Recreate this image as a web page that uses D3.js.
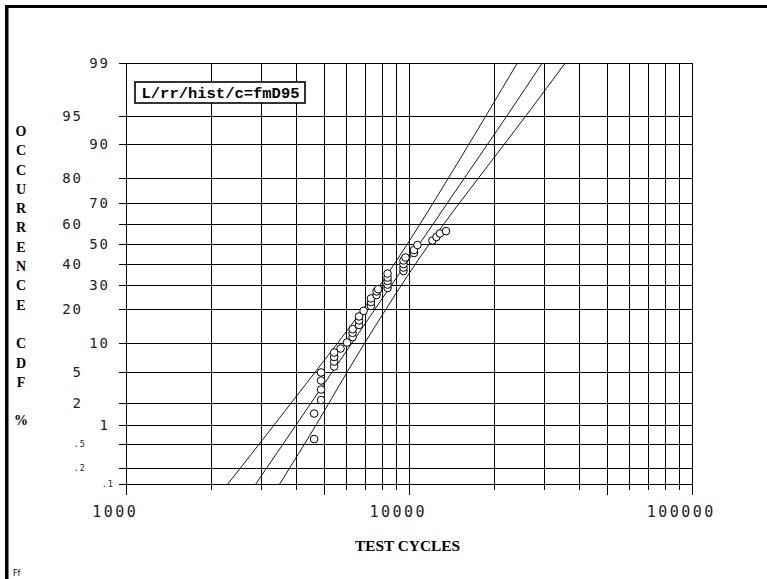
<!doctype html>
<html>
<head>
<meta charset="UTF-8">
<title>Lognormal probability plot</title>
<style>
  body { margin: 0; background: #fff; }
  svg { display: block; }
  .grid line { stroke: #000; stroke-width: 1; shape-rendering: crispEdges; }
  .tick-lbl { font-family: "DejaVu Sans Mono", monospace; fill: #222; }
  .ttl { font-family: "Liberation Serif", serif; font-weight: bold; fill: #000; }
</style>
</head>
<body>
<svg id="chart" width="767" height="579"></svg>
<script src="https://d3js.org/d3.v7.min.js"></script>
<script>
// failure data (grouped)
const cycles = [4620, 4620, 4890, 4890, 4890, 4890, 5440, 5440, 5440, 5440, 5730, 6040,
  6320, 6320, 6320, 6660, 6660, 6660, 6910, 7340, 7340, 7340, 7680, 7680, 7780,
  8400, 8400, 8400, 8400, 8400, 9560, 9560, 9560, 9560, 9720, 10410, 10410, 10710,
  12100, 12500, 12860, 13510];
const cdfPct = [0.60, 1.45, 2.22, 3.04, 3.93, 4.89, 5.72, 6.49, 7.26, 8.09, 8.90, 10.2,
  11.5, 12.6, 13.6, 14.8, 16.2, 17.5, 19.4, 21.2, 22.7, 24.1, 25.5, 27.0, 28.0,
  28.5, 30.0, 31.6, 33.2, 35.1, 36.3, 38.0, 39.7, 41.5, 43.0, 45.3, 46.8, 49.4,
  51.7, 53.5, 55.3, 56.5];

// fit line and 95% bounds
const linePct = [0.1, 1, 5, 20, 50, 80, 95, 99];
const fitCycles = [2874, 3998, 5364, 7581, 10900, 15670, 22170, 29570];
const lowerCycles = [2290, 3344, 4672, 6877, 9880, 13760, 18690, 24140];
const upperCycles = [3493, 4702, 6058, 8288, 11810, 17560, 25860, 35650];

// axes
const yTicks = [99, 95, 90, 80, 70, 60, 50, 40, 30, 20, 10, 5, 2, 1, 0.5, 0.2, 0.1];
const yTickLabels = ["99", "95", "90", "80", "70", "60", "50", "40", "30", "20", "10", "5", "2", "1", ".5", ".2", ".1"];
const xMajor = [1000, 10000, 100000];
const xMajorLabels = ["1000", "10000", "100000"];
const legendText = "L/rr/hist/c=fmD95";
const yTitle = "OCCURRENCE CDF %";
const xTitle = "TEST CYCLES";

// inverse normal cdf (Acklam)
function probit(p) {
  const a = [-3.969683028665376e+01, 2.209460984245205e+02, -2.759285104469687e+02, 1.383577518672690e+02, -3.066479806614716e+01, 2.506628277459239e+00];
  const b = [-5.447609879822406e+01, 1.615858368580409e+02, -1.556989798598866e+02, 6.680131188771972e+01, -1.328068155288572e+01];
  const c = [-7.784894002430293e-03, -3.223964580411365e-01, -2.400758277161838e+00, -2.549732539343734e+00, 4.374664141464968e+00, 2.938163982698783e+00];
  const d = [7.784695709041462e-03, 3.224671290700398e-01, 2.445134137142996e+00, 3.754408661907416e+00];
  const plow = 0.02425;
  let q, r;
  if (p < plow) {
    q = Math.sqrt(-2 * Math.log(p));
    return (((((c[0]*q+c[1])*q+c[2])*q+c[3])*q+c[4])*q+c[5]) / ((((d[0]*q+d[1])*q+d[2])*q+d[3])*q+1);
  } else if (p <= 1 - plow) {
    q = p - 0.5; r = q * q;
    return (((((a[0]*r+a[1])*r+a[2])*r+a[3])*r+a[4])*r+a[5])*q / (((((b[0]*r+b[1])*r+b[2])*r+b[3])*r+b[4])*r+1);
  }
  q = Math.sqrt(-2 * Math.log(1 - p));
  return -(((((c[0]*q+c[1])*q+c[2])*q+c[3])*q+c[4])*q+c[5]) / ((((d[0]*q+d[1])*q+d[2])*q+d[3])*q+1);
}

const L = 126, R = 692, T = 63, B = 484;
const x = d3.scaleLog().domain([1000, 100000]).range([L, R]);
const yz = d3.scaleLinear().domain([probit(0.001), probit(0.99)]).range([B, T]);
const y = pct => yz(probit(pct / 100));

const svg = d3.select("#chart");

// outer frame
svg.append("path")
  .attr("d", "M7,579 V6.5 H767")
  .attr("fill", "none").attr("stroke", "#000").attr("stroke-width", 3);
svg.append("line").attr("x1", 6).attr("x2", 6).attr("y1", 5).attr("y2", 579)
  .attr("stroke", "#000").attr("stroke-width", 2);

// grid
const grid = svg.append("g").attr("class", "grid");
const xAll = x.ticks(); // 1000,2000..100000
grid.selectAll(".v").data(xAll).enter().append("line")
  .attr("x1", d => Math.round(x(d)) + 0.5).attr("x2", d => Math.round(x(d)) + 0.5)
  .attr("y1", T)
  .attr("y2", d => {
    const lead = Math.round(d / Math.pow(10, Math.floor(Math.log10(d) + 1e-9)));
    return B + (lead === 1 || lead === 5 ? 11 : 6);
  });
grid.selectAll(".h").data(yTicks).enter().append("line")
  .attr("x1", L - 7).attr("x2", R)
  .attr("y1", d => Math.round(y(d)) + 0.5).attr("y2", d => Math.round(y(d)) + 0.5);

// y tick labels (two staggered columns as in the original)
const colEnd = { r: 108, l: 81, s: 85, e: 113 };
const yCol = ["r", "l", "r", "l", "r", "l", "r", "l", "r", "l", "r", "l", "l", "r", "s", "s", "e"];
svg.append("g").selectAll("text").data(yTicks).enter().append("text")
  .attr("class", "tick-lbl")
  .attr("x", (d, i) => colEnd[yCol[i]])
  .attr("y", d => y(d))
  .attr("dy", "0.36em")
  .attr("text-anchor", "end")
  .style("font-size", d => d < 1 ? "8.5px" : "14px")
  .style("letter-spacing", d => d < 1 ? "1px" : "2px")
  .attr("dx", d => d < 1 ? 1 : 2)
  .text((d, i) => yTickLabels[i]);

// x tick labels
svg.append("g").selectAll("text").data(xMajor).enter().append("text")
  .attr("class", "tick-lbl")
  .attr("x", d => x(d) - 12)
  .attr("y", 517)
  .attr("text-anchor", "middle")
  .style("font-size", "15px")
  .style("letter-spacing", "2.5px")
  .attr("dx", 1.25)
  .text((d, i) => xMajorLabels[i]);

// legend box
svg.append("rect").attr("x", 135).attr("y", 82).attr("width", 170).attr("height", 21)
  .attr("fill", "#fff").attr("stroke", "#000").attr("stroke-width", 1.6);
svg.append("text").attr("x", 141.5).attr("y", 97.5)
  .attr("textLength", 158).attr("lengthAdjust", "spacingAndGlyphs")
  .style("font-family", "'Liberation Mono', monospace").style("font-weight", "bold")
  .style("font-size", "15px").text(legendText);

// fit line and bounds
svg.append("clipPath").attr("id", "plotClip").append("rect")
  .attr("x", L).attr("y", T).attr("width", R - L).attr("height", B - T);
const curve = d3.line().x(d => x(d[0])).y(d => y(d[1])).curve(d3.curveNatural);
const lines = svg.append("g").attr("clip-path", "url(#plotClip)");
[lowerCycles, fitCycles, upperCycles].forEach(arr => {
  lines.append("path")
    .attr("d", curve(arr.map((c, i) => [c, linePct[i]])))
    .attr("fill", "none").attr("stroke", "#000").attr("stroke-width", 0.9);
});

// data points
svg.append("g").selectAll("circle").data(cycles).enter().append("circle")
  .attr("cx", d => x(d))
  .attr("cy", (d, i) => y(cdfPct[i]))
  .attr("r", 3.8)
  .attr("fill", "#fff").attr("stroke", "#000").attr("stroke-width", 1);

// y title, stacked letters
svg.append("g").selectAll("text").data(yTitle.split("")).enter().append("text")
  .attr("class", "ttl")
  .attr("x", 21).attr("y", (d, i) => 131 + i * 19.3)
  .attr("dy", "0.35em").attr("text-anchor", "middle")
  .style("font-size", "14px")
  .text(d => d);

// x title
svg.append("text").attr("class", "ttl")
  .attr("x", 355).attr("y", 551)
  .attr("textLength", 105).attr("lengthAdjust", "spacingAndGlyphs")
  .style("font-size", "15px").text(xTitle);

// plotter tag
svg.append("text").attr("x", 13).attr("y", 576)
  .style("font-family", "'DejaVu Sans', sans-serif").style("font-size", "8px")
  .text("Ff");
</script>
</body>
</html>
